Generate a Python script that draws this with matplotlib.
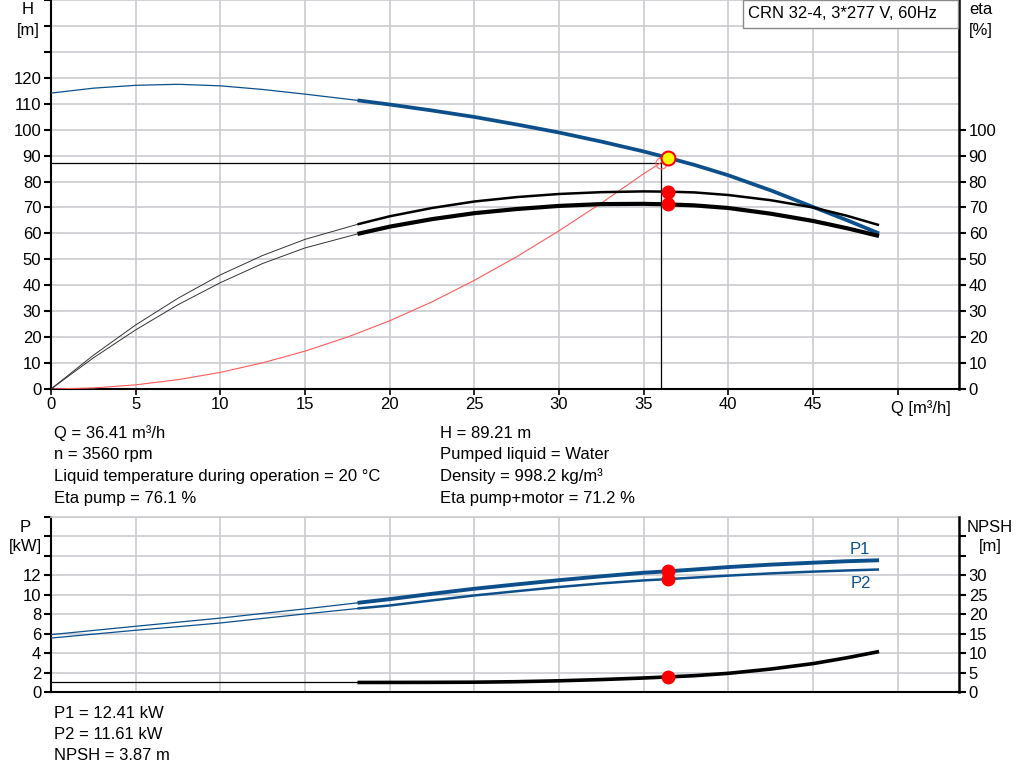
import matplotlib
matplotlib.use('Agg')
import matplotlib.pyplot as plt
from matplotlib.patches import Rectangle

plt.rcParams['font.family'] = ['Liberation Sans', 'DejaVu Sans']

# pump curves, Q in m3/h
q = [0, 2.5, 5, 7.5, 10, 12.5, 15, 18.1, 20, 22.5, 25, 27.5, 30, 32.5, 35, 36.41, 38, 40, 42.5, 45, 47, 48.9]
head = [114.1, 116.0, 117.1, 117.5, 116.9, 115.5, 113.7, 111.3, 109.7, 107.4, 104.9, 102.0, 98.9, 95.4, 91.6,
        89.21, 86.4, 82.4, 76.6, 70.2, 65.1, 60.0]
eta_pump = [0, 13.0, 24.7, 35.0, 44.0, 51.5, 57.7, 63.5, 66.6, 69.8, 72.3, 74.0, 75.2, 75.9, 76.2,
            76.1, 75.8, 74.8, 72.8, 70.0, 66.8, 63.2]
eta_total = [0, 12.0, 22.8, 32.5, 41.0, 48.4, 54.4, 59.8, 62.6, 65.5, 67.8, 69.4, 70.6, 71.3, 71.4,
             71.2, 70.8, 69.8, 67.6, 64.8, 62.0, 59.0]
p1 = [5.9, 6.33, 6.76, 7.18, 7.6, 8.08, 8.55, 9.17, 9.55, 10.1, 10.62, 11.07, 11.5, 11.9, 12.27,
      12.41, 12.6, 12.85, 13.1, 13.3, 13.45, 13.55]
p2 = [5.55, 5.95, 6.35, 6.72, 7.1, 7.57, 8.03, 8.59, 8.9, 9.42, 9.93, 10.37, 10.8, 11.17, 11.48,
      11.61, 11.77, 11.97, 12.2, 12.38, 12.5, 12.6]
npsh = [2.45, 2.45, 2.45, 2.45, 2.45, 2.45, 2.45, 2.45, 2.46, 2.48, 2.52, 2.65, 2.88, 3.2, 3.6,
        3.87, 4.2, 4.8, 5.9, 7.3, 8.8, 10.4]

# system curve
q_sys = [0, 2.5, 5, 7.5, 10, 12.5, 15, 17.5, 20, 22.5, 25, 27.5, 30, 32.5, 35, 36.0, 36.41]
h_sys = [0, 0.4, 1.6, 3.6, 6.4, 10.1, 14.6, 20.0, 26.3, 33.6, 41.9, 51.0, 61.0, 71.7, 83.0, 87.2, 89.21]

q_thick = 18.1
duty_q, duty_h = 36.41, 89.21
duty_eta_pump, duty_eta_total = 76.1, 71.2
duty_p1, duty_p2, duty_npsh = 12.41, 11.61, 3.87
cross_q, cross_h = 36.0, 87.2

blue = '#0d4f8b'
grid_c = '#c9ccd1'
fs = 12

W, H = 1024, 781
fig = plt.figure(figsize=(W / 100, H / 100), dpi=100)
fig.patch.set_facecolor('white')

def px(x, y):
    return x / W, 1 - y / H

def setup(ax, ylim, yt, ylab_max, xlabels):
    ax.set_xlim(0, 53.62)
    ax.set_ylim(*ylim)
    ax.set_xticks(range(0, 55, 5))
    ax.set_xticklabels([str(v) if (xlabels and v <= 45) else '' for v in range(0, 55, 5)])
    ax.set_yticks(yt)
    ax.set_yticklabels([str(v) if v <= ylab_max else '' for v in yt])
    ax.grid(True, color=grid_c, lw=1.2, zorder=0)
    ax.set_axisbelow(True)
    ax.tick_params(axis='y', length=5, width=1.5, labelsize=fs, pad=2)
    ax.tick_params(axis='x', length=4 if xlabels else 0, width=1.2, labelsize=fs, pad=2)
    ax.spines['left'].set_linewidth(1.5)
    ax.spines['bottom'].set_linewidth(1.5)
    ax.spines['right'].set_visible(False)

i0 = q.index(q_thick)

# ---- top: H and eta
ax = fig.add_axes([51 / W, 1 - 389 / H, 908 / W, 389 / H])
setup(ax, (0, 150), list(range(0, 160, 10)), 120, True)
ax.spines['top'].set_visible(False)

ax2 = ax.twinx()
ax2.set_ylim(0, 150)
ax2.set_yticks(list(range(0, 110, 10)))
ax2.tick_params(axis='y', length=5, width=1.5, labelsize=fs, pad=2)
for s in ['left', 'top', 'bottom']:
    ax2.spines[s].set_visible(False)
ax2.spines['right'].set_linewidth(1.8)

ax.plot([0, cross_q], [cross_h, cross_h], color='black', lw=0.9, zorder=2)
ax.plot([cross_q, cross_q], [0, cross_h], color='black', lw=0.9, zorder=2)
ax.plot(q_sys, h_sys, color='#ff5a5a', lw=0.8, zorder=3)

ax.plot(q[:i0 + 1], head[:i0 + 1], color=blue, lw=0.9, zorder=4)
ax.plot(q[i0:], head[i0:], color=blue, lw=2.7, zorder=4, solid_capstyle='butt')
ax.plot(q[:i0 + 1], eta_pump[:i0 + 1], color='#333333', lw=0.7, zorder=4)
ax.plot(q[i0:], eta_pump[i0:], color='black', lw=1.8, zorder=4, solid_capstyle='butt')
ax.plot(q[:i0 + 1], eta_total[:i0 + 1], color='#333333', lw=0.7, zorder=4)
ax.plot(q[i0:], eta_total[i0:], color='black', lw=3.0, zorder=4, solid_capstyle='butt')

ax.plot([cross_q], [cross_h], 'o', ms=8, mfc='none', mec='#ff6a6a', mew=0.8, zorder=5)
ax.plot([duty_q, duty_q], [duty_eta_pump, duty_eta_total], 'o', ms=9, color='#ff0000', zorder=6)
ax.plot([duty_q], [duty_h], 'o', ms=10, mfc='#ffff00', mec='#ff0000', mew=1.5, zorder=7)

# ---- bottom: P and NPSH
bx = fig.add_axes([51 / W, 1 - 692 / H, 908 / W, 175 / H])
setup(bx, (0, 18), list(range(0, 20, 2)), 12, False)
bx.spines['top'].set_color(grid_c)
bx.spines['top'].set_linewidth(1.2)

bx2 = bx.twinx()
bx2.set_ylim(0, 45)
bx2.set_yticks(list(range(0, 45, 5)))
bx2.set_yticklabels([str(v) if v <= 30 else '' for v in range(0, 45, 5)])
bx2.tick_params(axis='y', length=5, width=1.5, labelsize=fs, pad=2)
for s in ['left', 'top', 'bottom']:
    bx2.spines[s].set_visible(False)
bx2.spines['right'].set_linewidth(1.8)

bx.plot(q[:i0 + 1], p1[:i0 + 1], color=blue, lw=0.9, zorder=4)
bx.plot(q[i0:], p1[i0:], color=blue, lw=2.8, zorder=4, solid_capstyle='butt')
bx.plot(q[:i0 + 1], p2[:i0 + 1], color=blue, lw=0.9, zorder=4)
bx.plot(q[i0:], p2[i0:], color=blue, lw=1.8, zorder=4, solid_capstyle='butt')
bx2.plot(q[:i0 + 1], npsh[:i0 + 1], color='black', lw=0.9, zorder=4)
bx2.plot(q[i0:], npsh[i0:], color='black', lw=2.6, zorder=4, solid_capstyle='butt')
bx.plot([duty_q, duty_q], [duty_p1, duty_p2], 'o', ms=9, color='#ff0000', zorder=6)
bx2.plot([duty_q], [duty_npsh], 'o', ms=9, color='#ff0000', zorder=6)

# ---- labels and texts
def put(x, y, s, ha='left', color='black'):
    fig.text(*px(x, y), s, ha=ha, va='center', fontsize=fs, color=color)

put(28, 10, 'H', 'center')
put(28, 30, '[m]', 'center')
put(981, 10, 'eta', 'center')
put(981, 31, '[%]', 'center')
put(921, 408, 'Q [m³/h]', 'center')
put(25, 527, 'P', 'center')
put(25, 547, '[kW]', 'center')
put(990, 527, 'NPSH', 'center')
put(990, 547, '[m]', 'center')
put(860, 549, 'P1', 'center', blue)
put(861, 583, 'P2', 'center', blue)

left_lines = ['Q = 36.41 m³/h', 'n = 3560 rpm', 'Liquid temperature during operation = 20 °C', 'Eta pump = 76.1 %']
right_lines = ['H = 89.21 m', 'Pumped liquid = Water', 'Density = 998.2 kg/m³', 'Eta pump+motor = 71.2 %']
for i, (a, b) in enumerate(zip(left_lines, right_lines)):
    put(54, 433 + i * 21.7, a)
    put(440, 433 + i * 21.7, b)
for i, s in enumerate(['P1 = 12.41 kW', 'P2 = 11.61 kW', 'NPSH = 3.87 m']):
    put(54, 713 + i * 21.5, s)

fig.add_artist(Rectangle(px(743, 28), 215 / W, 28 / H, transform=fig.transFigure,
                         facecolor='white', edgecolor='#8a8a8a', lw=1.0, zorder=5))
fig.text(*px(748, 14), 'CRN 32-4, 3*277 V, 60Hz', ha='left', va='center', fontsize=fs, zorder=6)

fig.savefig('out.png', dpi=100, facecolor='white')
